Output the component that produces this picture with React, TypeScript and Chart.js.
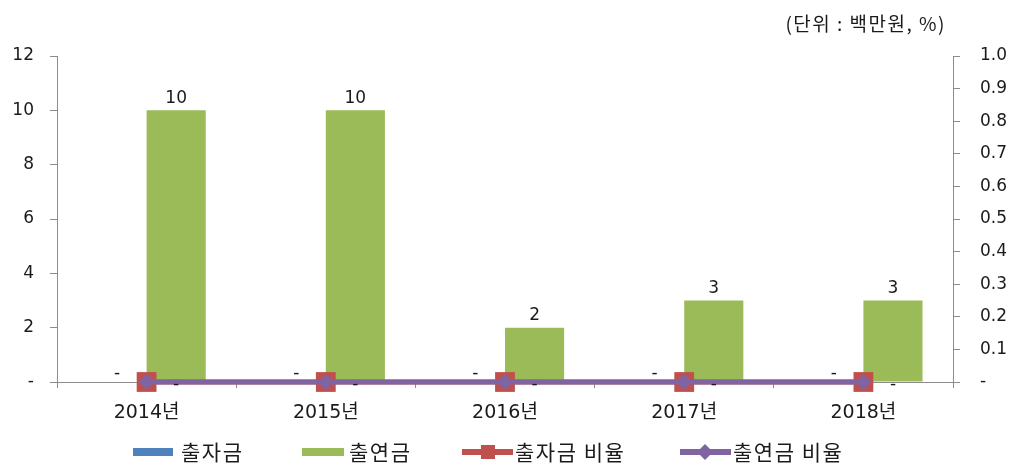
import React, { useEffect, useRef } from "react";
import { Chart, registerables } from "chart.js";

Chart.register(...registerables);

const categories = ["2014년", "2015년", "2016년", "2017년", "2018년"];
const investValues = [0, 0, 0, 0, 0];
const contribValues = [10, 10, 2, 3, 3];
const investRatio = [0, 0, 0, 0, 0];
const contribRatio = [0, 0, 0, 0, 0];
const seriesNames = ["출자금", "출연금", "출자금 비율", "출연금 비율"];
const unitLabel = "(단위 : 백만원, %)";

const BLUE = "#4F81BD";
const GREEN = "#9BBB59";
const RED = "#C0504D";
const PURPLE = "#8064A2";
const TEXT = "#1a1a1a";
const AXIS = "#8c8c8c";
const FONT = "'DejaVu Sans', 'Noto Sans CJK KR', sans-serif";
const KFONT = "'Noto Sans CJK KR', sans-serif";

const fmt = (v: number) => (v === 0 ? "-" : String(v));

const labelsPlugin = {
  id: "customLabels",
  afterDatasetsDraw(chart: any) {
    const ctx = chart.ctx;
    ctx.save();
    ctx.fillStyle = TEXT;
    ctx.textAlign = "center";
    ctx.textBaseline = "middle";
    ctx.font = `17px ${FONT}`;
    const m0 = chart.getDatasetMeta(0);
    const m1 = chart.getDatasetMeta(1);
    m0.data.forEach((el: any, i: number) => {
      ctx.fillText(fmt(investValues[i]), el.x, el.y - 8);
    });
    m1.data.forEach((el: any, i: number) => {
      ctx.fillText(fmt(contribValues[i]), el.x, el.y - 12);
    });
    // ratio labels (dash) below the line
    const m3 = chart.getDatasetMeta(3);
    m3.data.forEach((el: any, i: number) => {
      const bx = m1.data[i].x;
      ctx.fillText(contribRatio[i] === 0 ? "-" : contribRatio[i].toFixed(1), bx, el.y + 3);
    });
    ctx.restore();
  },
  afterDraw(chart: any) {
    const ctx = chart.ctx;
    ctx.save();
    // unit label
    ctx.fillStyle = TEXT;
    ctx.font = `19px ${KFONT}`;
    (ctx as any).letterSpacing = "1.5px";
    ctx.textAlign = "right";
    ctx.textBaseline = "middle";
    ctx.fillText(unitLabel, 946, 24);

    // legend
    const ly = 452;
    ctx.font = `21px ${KFONT}`;
    (ctx as any).letterSpacing = "1.5px";
    ctx.textAlign = "left";
    // blue
    ctx.fillStyle = BLUE;
    ctx.fillRect(133, ly - 4, 40, 8);
    ctx.fillStyle = TEXT;
    ctx.fillText(seriesNames[0], 181, ly);
    // green
    ctx.fillStyle = GREEN;
    ctx.fillRect(302, ly - 4, 42, 8);
    ctx.fillStyle = TEXT;
    ctx.fillText(seriesNames[1], 349, ly);
    // red line + square
    ctx.strokeStyle = RED;
    ctx.lineWidth = 6;
    ctx.beginPath();
    ctx.moveTo(462, ly);
    ctx.lineTo(513, ly);
    ctx.stroke();
    ctx.fillStyle = RED;
    ctx.fillRect(481, ly - 7, 14, 14);
    ctx.fillStyle = TEXT;
    ctx.fillText(seriesNames[2], 515, ly);
    // purple line + diamond
    ctx.strokeStyle = PURPLE;
    ctx.lineWidth = 6;
    ctx.beginPath();
    ctx.moveTo(680, ly);
    ctx.lineTo(731, ly);
    ctx.stroke();
    ctx.fillStyle = PURPLE;
    ctx.beginPath();
    ctx.moveTo(705, ly - 8);
    ctx.lineTo(713, ly);
    ctx.lineTo(705, ly + 8);
    ctx.lineTo(697, ly);
    ctx.closePath();
    ctx.fill();
    ctx.fillStyle = TEXT;
    ctx.fillText(seriesNames[3], 733, ly);
    ctx.restore();
  },
};

export default function App() {
  const ref = useRef<HTMLCanvasElement | null>(null);

  useEffect(() => {
    if (!ref.current) return;
    const chart = new Chart(ref.current, {
      type: "bar",
      data: {
        labels: categories,
        datasets: [
          {
            type: "bar",
            label: seriesNames[0],
            data: investValues,
            backgroundColor: BLUE,
            yAxisID: "y",
            order: 2,
            categoryPercentage: 0.66,
            barPercentage: 1,
          } as any,
          {
            type: "bar",
            label: seriesNames[1],
            data: contribValues,
            backgroundColor: GREEN,
            yAxisID: "y",
            order: 2,
            categoryPercentage: 0.66,
            barPercentage: 1,
          } as any,
          {
            type: "line",
            label: seriesNames[2],
            data: investRatio,
            borderColor: RED,
            backgroundColor: RED,
            borderWidth: 5,
            pointStyle: "rect",
            pointRadius: 14,
            pointBorderWidth: 0,
            pointBackgroundColor: RED,
            yAxisID: "y2",
            order: 1,
            clip: false,
          } as any,
          {
            type: "line",
            label: seriesNames[3],
            data: contribRatio,
            borderColor: PURPLE,
            backgroundColor: PURPLE,
            borderWidth: 5,
            pointStyle: "rectRot",
            pointRadius: 8,
            pointBorderWidth: 0,
            pointBackgroundColor: PURPLE,
            yAxisID: "y2",
            order: 0,
            clip: false,
          } as any,
        ],
      },
      options: {
        responsive: false,
        animation: false,
        events: [],
        layout: { padding: { top: 56, left: 0, right: 0, bottom: 0 } },
        plugins: {
          legend: { display: false },
          tooltip: { enabled: false },
        },
        scales: {
          x: {
            offset: true,
            grid: {
              offset: true,
              drawOnChartArea: false,
              drawTicks: true,
              tickLength: 6,
              color: AXIS,
            },
            border: { color: AXIS, width: 1 },
            ticks: {
              color: TEXT,
              font: { family: FONT, size: 19 },
              padding: 14,
              maxRotation: 0,
            },
            afterFit: (s: any) => {
              s.height = 81;
            },
          },
          y: {
            position: "left",
            min: 0,
            max: 12,
            ticks: {
              stepSize: 2,
              color: TEXT,
              font: { family: FONT, size: 17 },
              padding: 16,
              callback: (v: any) => fmt(Number(v)),
            },
            grid: { drawOnChartArea: false, tickLength: 7, color: AXIS },
            border: { color: AXIS, width: 1 },
            afterFit: (s: any) => {
              s.width = 57;
            },
          },
          y2: {
            position: "right",
            min: 0,
            max: 1,
            ticks: {
              stepSize: 0.1,
              color: TEXT,
              font: { family: FONT, size: 17 },
              padding: 20,
              callback: (v: any) => (Number(v) === 0 ? "-" : Number(v).toFixed(1)),
            },
            grid: { drawOnChartArea: false, tickLength: 7, color: AXIS },
            border: { color: AXIS, width: 1 },
            afterFit: (s: any) => {
              s.width = 60;
            },
          },
        },
      },
      plugins: [labelsPlugin],
    });
    return () => chart.destroy();
  }, []);

  return (
    <div style={{ position: "absolute", left: 0, top: 0, width: 1013, height: 463, background: "#fff" }}>
      <canvas ref={ref} width={1013} height={463} style={{ width: 1013, height: 463, display: "block" }} />
    </div>
  );
}
